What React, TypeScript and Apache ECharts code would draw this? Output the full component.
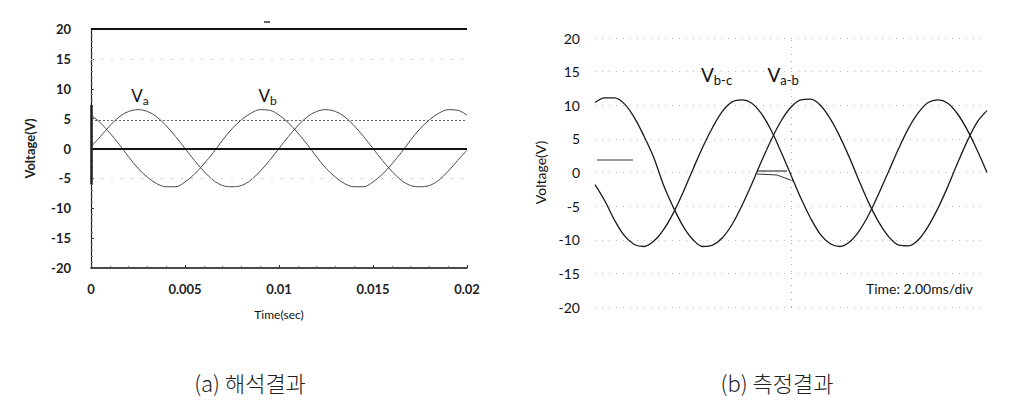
import React, { useEffect, useRef } from "react";
import * as echarts from "echarts";

// ---- (a) simulation: time in seconds, step 0.5 ms ----
const simTime: number[] = [
  0, 0.0005, 0.001, 0.0015, 0.002, 0.0025, 0.003, 0.0035, 0.004, 0.0045,
  0.005, 0.0055, 0.006, 0.0065, 0.007, 0.0075, 0.008, 0.0085, 0.009, 0.0095,
  0.01, 0.0105, 0.011, 0.0115, 0.012, 0.0125, 0.013, 0.0135, 0.014, 0.0145,
  0.015, 0.0155, 0.016, 0.0165, 0.017, 0.0175, 0.018, 0.0185, 0.019, 0.0195, 0.02,
];
const simVa: number[] = [
  0.3, 2.0, 3.8, 5.3, 6.2, 6.5, 6.2, 5.3, 3.8, 2.0,
  0, -2.0, -3.8, -5.3, -6.2, -6.4, -6.2, -5.3, -3.8, -2.0,
  0, 2.0, 3.8, 5.3, 6.2, 6.5, 6.2, 5.3, 3.8, 2.0,
  0, -2.0, -3.8, -5.3, -6.2, -6.4, -6.2, -5.3, -3.8, -2.0, -0.3,
];
const simVb: number[] = [
  5.6, 4.3, 2.6, 0.7, -1.4, -3.3, -4.8, -5.9, -6.4, -6.4,
  -5.6, -4.3, -2.6, -0.7, 1.4, 3.3, 4.8, 5.9, 6.5, 6.4,
  5.6, 4.3, 2.6, 0.7, -1.4, -3.3, -4.8, -5.9, -6.4, -6.4,
  -5.6, -4.3, -2.6, -0.7, 1.4, 3.3, 4.8, 5.9, 6.5, 6.4, 5.6,
];
const simRefLevel = 4.7;
const simDottedLevels: number[] = [15, -5];
const simTicks = { min: -20, max: 20, step: 5 };

// ---- (b) measurement: time in ms, step 0.5 ms ----
const meaTime: number[] = [
  0, 0.5, 1, 1.5, 2, 2.5, 3, 3.5, 4, 4.5, 5, 5.5, 6, 6.5, 7, 7.5, 8, 8.5, 9, 9.5,
  10, 10.5, 11, 11.5, 12, 12.5, 13, 13.5, 14, 14.5, 15, 15.5, 16, 16.5, 17, 17.5,
  18, 18.5, 19, 19.5, 20,
];
const meaVab: number[] = [
  10.4, 11.1, 11.1, 10.2, 8.2, 5.4, 2.2, -1.9, -5.2, -8.0, -10.0, -11.0, -10.8,
  -9.7, -7.7, -4.9, -1.7, 1.7, 4.9, 7.7, 9.7, 10.8, 10.9, 10.0, 8.0, 5.3, 2.1,
  -1.4, -4.7, -7.5, -9.6, -10.8, -10.9, -10.0, -8.0, -5.3, -2.1, 1.4, 4.7, 7.5, 9.2,
];
const meaVbc: number[] = [
  -1.8, -4.2, -7.1, -9.4, -10.7, -11.0, -10.2, -8.5, -6.0, -2.9, 0.5, 3.8, 6.7,
  9.1, 10.5, 10.8, 10.3, 8.7, 6.2, 3.0, -0.4, -3.8, -6.8, -9.2, -10.6, -11.0,
  -10.3, -8.6, -6.1, -3.0, 0.3, 3.6, 6.6, 8.9, 10.4, 10.8, 10.3, 8.7, 6.3, 3.3, 0.0,
];
const meaCenterTime = 10;

const FONT = "Lato, 'Liberation Sans', sans-serif";

export default function App() {
  const ref = useRef<HTMLDivElement>(null);
  useEffect(() => {
    if (!ref.current) return;
    const chart = echarts.init(ref.current, null, { renderer: "svg" });
    const pairs = (xs: number[], ys: number[]) => xs.map((x, i) => [x, ys[i]]);
    const vLabel = (main: string, sub: string, big: number, small: number, drop: number) => ({
      show: true,
      formatter: `{v|${main}}{s|${sub}}`,
      rich: {
        v: { fontFamily: FONT, fontSize: big, color: "#111", lineHeight: big + 2, verticalAlign: "top" },
        s: {
          fontFamily: FONT,
          fontSize: small,
          color: "#111",
          lineHeight: small + 2,
          verticalAlign: "bottom",
          padding: [drop, 0, 0, 0],
        },
      },
    });
    const option: any = {
      animation: false,
      backgroundColor: "#fff",
      grid: [
        { left: 91, top: 29, width: 376, height: 239 },
        { left: 595, top: 38, width: 392, height: 269 },
      ],
      xAxis: [
        {
          gridIndex: 0,
          type: "value",
          min: 0,
          max: 0.02,
          interval: 0.005,
          name: "Time(sec)",
          nameLocation: "middle",
          nameGap: 40,
          nameTextStyle: { fontFamily: FONT, fontSize: 12, color: "#111" },
          axisLine: { show: true, onZero: false, lineStyle: { color: "#111", width: 1.5 } },
          axisTick: { show: true, inside: true, length: 3, lineStyle: { color: "#333" } },
          minorTick: { show: true, splitNumber: 5, length: 2, lineStyle: { color: "#666" } },
          axisLabel: {
            fontFamily: FONT,
            fontSize: 13,
            fontWeight: "bold",
            color: "#222",
            margin: 14,
            formatter: (v: number) => String(Math.round(v * 1000) / 1000),
          },
          splitLine: { show: false },
        },
        {
          gridIndex: 1,
          type: "value",
          min: 0,
          max: 20,
          interval: 2,
          axisLine: { show: false },
          axisTick: { show: false },
          axisLabel: { show: false },
          splitLine: { show: false },
        },
      ],
      yAxis: [
        {
          gridIndex: 0,
          type: "value",
          min: simTicks.min,
          max: simTicks.max,
          interval: simTicks.step,
          name: "Voltage(V)",
          nameLocation: "middle",
          nameGap: 55,
          nameTextStyle: { fontFamily: FONT, fontSize: 13, fontWeight: "bold", color: "#222" },
          axisLine: { show: true, onZero: false, lineStyle: { color: "#222", width: 1.2 } },
          axisTick: { show: true, inside: true, length: 3, lineStyle: { color: "#444" } },
          minorTick: { show: true, splitNumber: 5, length: 2, lineStyle: { color: "#777" } },
          axisLabel: { fontFamily: FONT, fontSize: 13, fontWeight: "bold", color: "#222", margin: 20 },
          splitLine: { show: false },
        },
        {
          gridIndex: 1,
          type: "value",
          min: -20,
          max: 20,
          interval: 5,
          name: "Voltage(V)",
          nameLocation: "middle",
          nameGap: 48,
          nameTextStyle: { fontFamily: FONT, fontSize: 14, color: "#111" },
          axisLine: { show: false },
          axisTick: { show: false },
          axisLabel: { fontFamily: FONT, fontSize: 14, color: "#111", margin: 15 },
          splitLine: { show: true, lineStyle: { color: "#bbb", type: [1, 6], width: 1 } },
        },
      ],
      series: [
        {
          name: "Va",
          type: "line",
          xAxisIndex: 0,
          yAxisIndex: 0,
          data: pairs(simTime, simVa),
          smooth: 0.35,
          showSymbol: false,
          lineStyle: { color: "#4a4a4a", width: 1 },
          markLine: {
            silent: true,
            symbol: "none",
            label: { show: false },
            data: [
              { yAxis: simTicks.max, lineStyle: { color: "#111", width: 2, type: "solid" } },
              { yAxis: 0, lineStyle: { color: "#111", width: 2, type: "solid" } },
              { yAxis: simRefLevel, lineStyle: { color: "#666", width: 1, type: [2, 2] } },
              ...simDottedLevels.map((y) => ({
                yAxis: y,
                lineStyle: { color: "#ccc", width: 1, type: [2, 8] },
              })),
            ],
          },
          markPoint: {
            symbol: "circle",
            symbolSize: 0,
            data: [{ coord: [0.0026, 8.7], label: vLabel("V", "a", 17, 12, 9) }],
          },
        },
        {
          name: "Vb",
          type: "line",
          xAxisIndex: 0,
          yAxisIndex: 0,
          data: pairs(simTime, simVb),
          smooth: 0.35,
          showSymbol: false,
          lineStyle: { color: "#4a4a4a", width: 1 },
          markLine: {
            silent: true,
            symbol: "none",
            label: { show: false },
            data: [
              [
                { coord: [0, 7.3], lineStyle: { color: "#222", width: 2.5, type: "solid" } },
                { coord: [0, -6] },
              ],
            ],
          },
          markPoint: {
            symbol: "circle",
            symbolSize: 0,
            data: [{ coord: [0.0094, 8.7], label: vLabel("V", "b", 17, 12, 9) }],
          },
        },
        {
          name: "Va-b",
          type: "line",
          xAxisIndex: 1,
          yAxisIndex: 1,
          data: pairs(meaTime, meaVab),
          smooth: 0.35,
          showSymbol: false,
          lineStyle: { color: "#1a1a1a", width: 1.3 },
          markLine: {
            silent: true,
            symbol: "none",
            label: { show: false },
            data: [{ xAxis: meaCenterTime, lineStyle: { color: "#aaa", width: 1, type: [1, 6] } }],
          },
          markPoint: {
            symbol: "circle",
            symbolSize: 0,
            data: [{ coord: [9.6, 14.4], label: vLabel("V", "a-b", 19, 13, 10) }],
          },
        },
        {
          name: "Vb-c",
          type: "line",
          xAxisIndex: 1,
          yAxisIndex: 1,
          data: pairs(meaTime, meaVbc),
          smooth: 0.35,
          showSymbol: false,
          lineStyle: { color: "#1a1a1a", width: 1.3 },
          markPoint: {
            symbol: "circle",
            symbolSize: 0,
            data: [{ coord: [6.2, 14.4], label: vLabel("V", "b-c", 19, 13, 10) }],
          },
        },
      ],
      graphic: [
        { type: "line", shape: { x1: 264, y1: 22, x2: 270, y2: 22 }, style: { stroke: "#333", lineWidth: 1.5 } },
        { type: "rect", shape: { x: 597, y: 159, width: 36, height: 2 }, style: { fill: "#999" } },
        { type: "rect", shape: { x: 757, y: 170, width: 30, height: 2 }, style: { fill: "#888" } },
        {
          type: "polyline",
          shape: { points: [[757, 174], [777, 175], [793, 181]] },
          style: { stroke: "#333", lineWidth: 1, fill: "none" },
        },
        {
          type: "text",
          x: 866,
          y: 288,
          style: { text: "Time: 2.00ms/div", font: `14px ${FONT}`, fill: "#111", textVerticalAlign: "middle" },
        },
        {
          type: "text",
          x: 250,
          y: 382,
          style: {
            text: "(a) 해석결과",
            font: "300 22px 'Noto Sans CJK KR', sans-serif",
            fill: "#222",
            textAlign: "center",
            textVerticalAlign: "middle",
          },
        },
        {
          type: "text",
          x: 777,
          y: 382,
          style: {
            text: "(b) 측정결과",
            font: "300 22px 'Noto Sans CJK KR', sans-serif",
            fill: "#222",
            textAlign: "center",
            textVerticalAlign: "middle",
          },
        },
      ],
    };
    chart.setOption(option);
    return () => chart.dispose();
  }, []);
  return (
    <div
      ref={ref}
      style={{ position: "fixed", left: 0, top: 0, width: 1010, height: 403, background: "#fff" }}
    />
  );
}
